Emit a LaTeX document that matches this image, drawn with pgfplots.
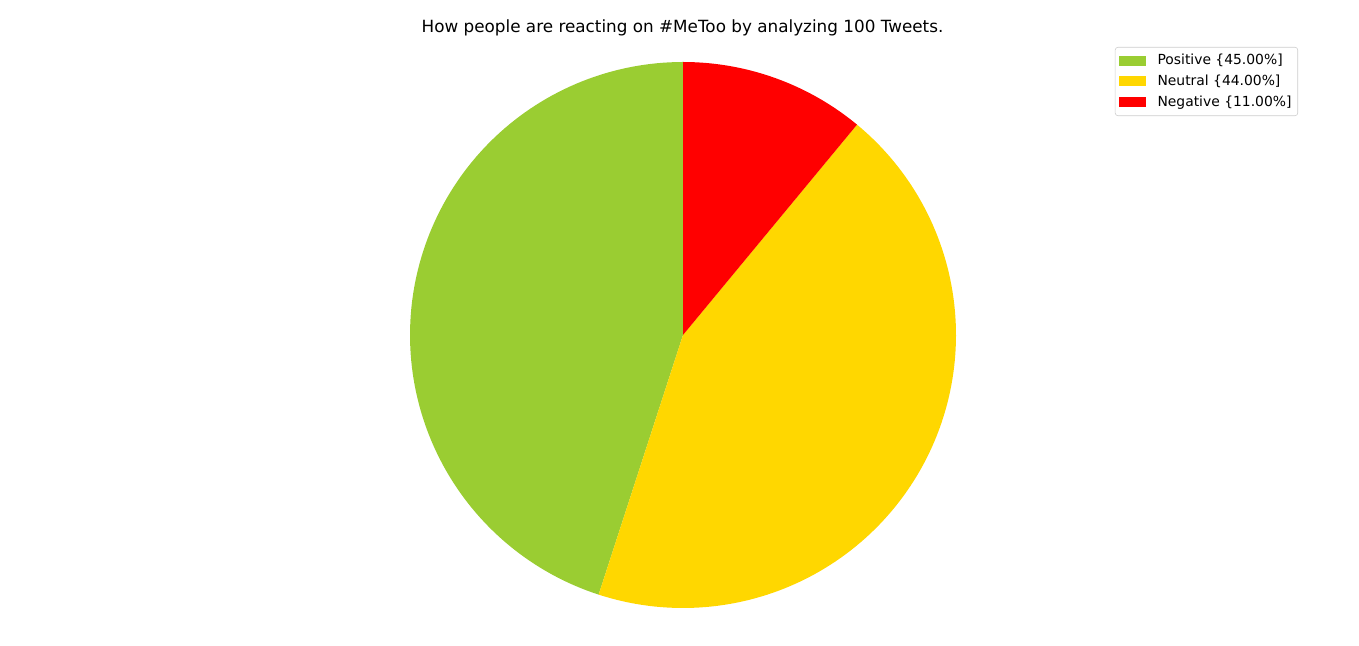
\documentclass[border=0pt]{standalone}
\usepackage{pgfplots}
\usepackage{pgfplotstable}
\pgfplotsset{compat=1.18}
\usepackage{fontspec}
\setmainfont{DejaVu Sans}
\definecolor{yg}{RGB}{154,205,50}
\definecolor{gd}{RGB}{255,215,0}
\definecolor{rd}{RGB}{255,0,0}
\pgfplotstableread{
label value
Positive 45
Neutral 44
Negative 11
}\piedata
\pgfplotstablegetelem{0}{value}\of\piedata\let\vA\pgfplotsretval
\pgfplotstablegetelem{1}{value}\of\piedata\let\vB\pgfplotsretval
\pgfplotstablegetelem{2}{value}\of\piedata\let\vC\pgfplotsretval
\pgfmathsetmacro\aZero{90}
\pgfmathsetmacro\aOne{90+3.6*\vA}
\pgfmathsetmacro\aTwo{\aOne+3.6*\vB}
\pgfmathsetmacro\aThree{\aTwo+3.6*\vC}
\begin{document}
\begin{tikzpicture}
\begin{axis}[
  x=0.72pt, y=0.72pt,
  xmin=0, xmax=1359, ymin=0, ymax=646,
  hide axis,
  clip=false,
  title={How people are reacting on \#MeToo by analyzing 100 Tweets.},
  title style={at={(axis cs:682.5,610)}, anchor=center, font=\fontsize{12.1}{14}\selectfont},
  legend style={at={(axis cs:1298,599)}, anchor=north east, draw={rgb,255:red,204;green,204;blue,204},
    rounded corners=2pt, font=\fontsize{10}{12}\selectfont, inner xsep=2.5pt, inner ysep=3pt,
    row sep=2pt, cells={anchor=west}},
  legend image code/.code={\fill[#1, draw=none, sharp corners] (0pt,-3.6pt) rectangle (20pt,3.6pt); \path (26pt,0pt);},
]
\path (axis cs:0,0) rectangle (axis cs:1359,646);
\addplot[fill=yg, draw=none, domain=\aZero:\aOne, samples=120, variable=\t]
  ({683+273*cos(\t)},{311+273*sin(\t)}) -- (axis cs:683,311) -- cycle;
\addlegendentry{Positive \{45.00\%]}
\addplot[fill=gd, draw=none, domain=\aOne:\aTwo, samples=120, variable=\t]
  ({683+273*cos(\t)},{311+273*sin(\t)}) -- (axis cs:683,311) -- cycle;
\addlegendentry{Neutral \{44.00\%]}
\addplot[fill=rd, draw=none, domain=\aTwo:\aThree, samples=40, variable=\t]
  ({683+273*cos(\t)},{311+273*sin(\t)}) -- (axis cs:683,311) -- cycle;
\addlegendentry{Negative \{11.00\%]}
\end{axis}
\end{tikzpicture}
\end{document}
